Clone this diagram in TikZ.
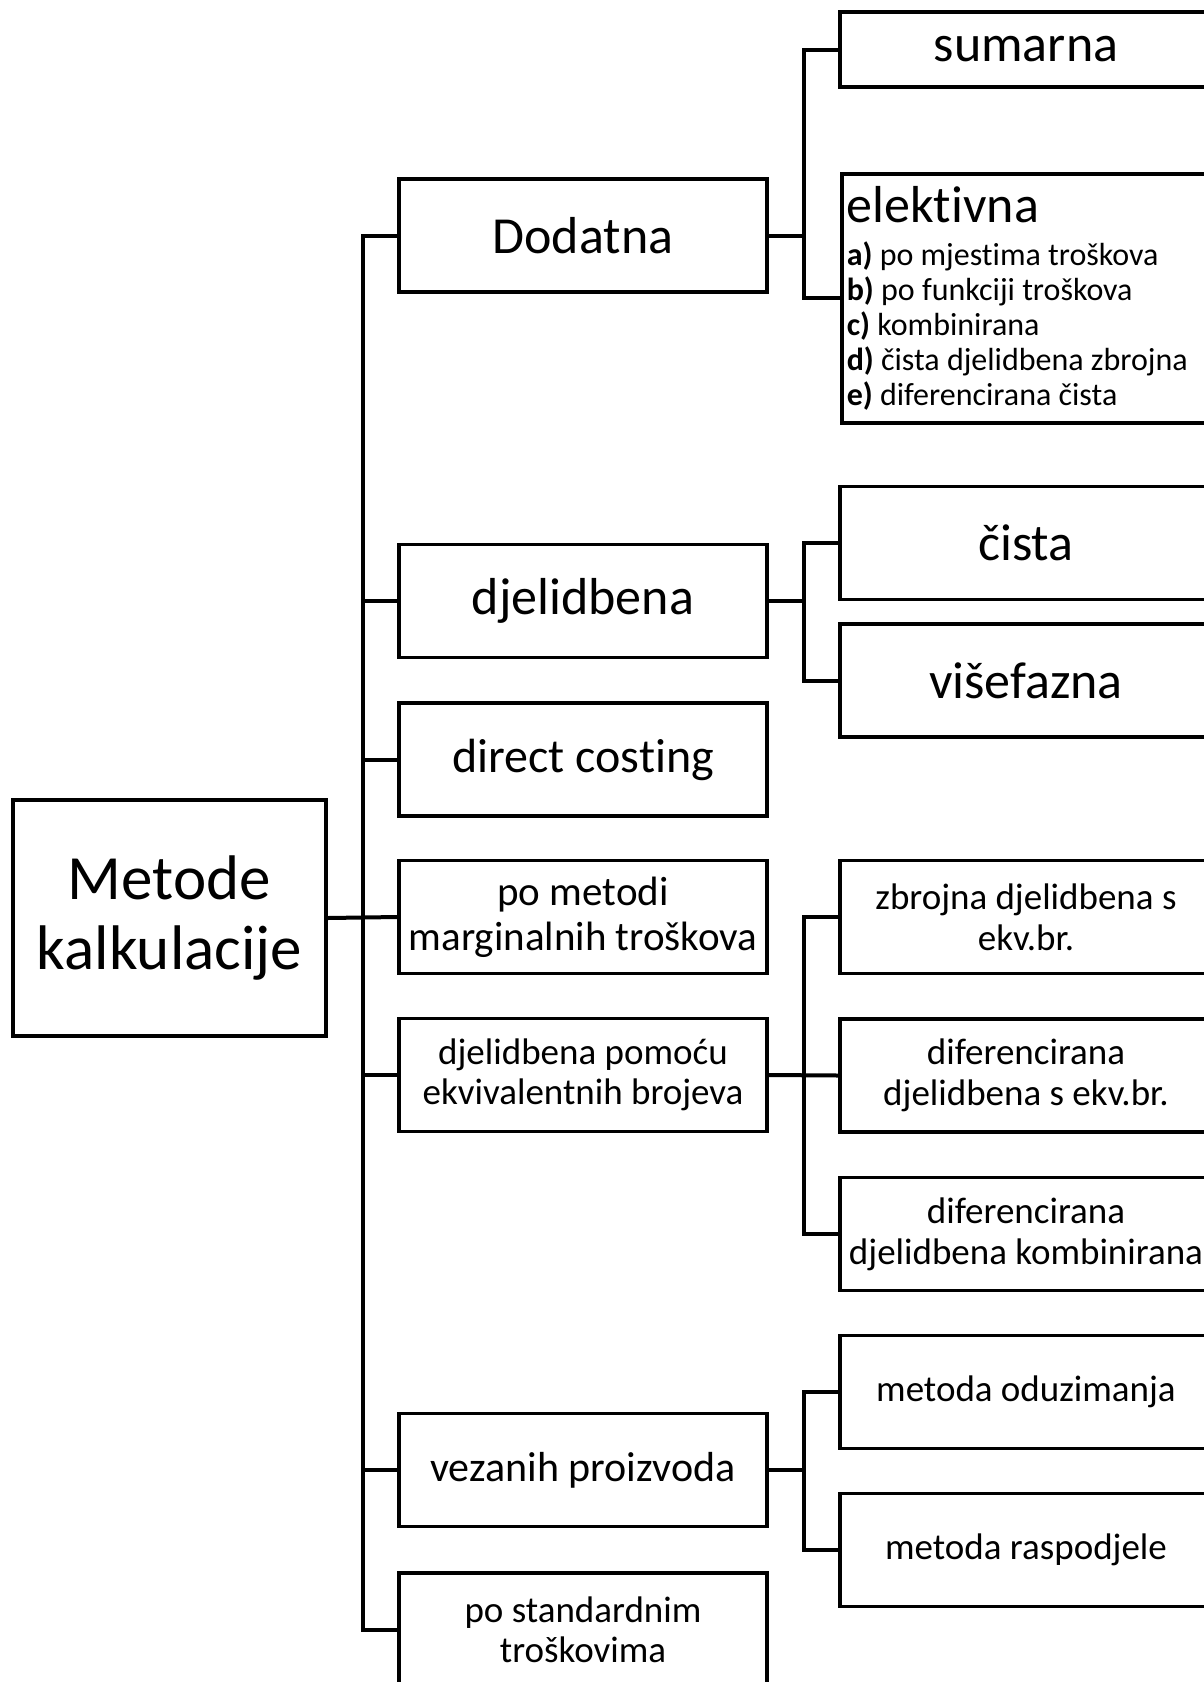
\documentclass[tikz,border=0pt]{standalone}
\usepackage{fontspec}
\setmainfont{Carlito}[Ligatures={NoCommon,NoRequired,NoContextual},Contextuals=NoAlternate]
\newcommand{\fsz}[2]{\fontsize{#1}{#2}\selectfont}
\begin{document}
\begin{tikzpicture}[x=1pt,y=-1pt,
    box/.style={draw,line width=3.5pt,minimum height=113,inner sep=0pt,align=center},
    mid/.style={box,minimum width=368},
    leaf/.style={box,minimum width=372},
    link/.style={line width=4pt}]
    \useasboundingbox (0,0) rectangle (1204,1682);
    \clip (0,0) rectangle (1204,1682);
    % root
    \node[box,minimum width=313,minimum height=236,font=\fsz{63}{70}] (root) at (169.5,918) {Metode\\kalkulacije};
    % middle column
    \node[mid,font=\fsz{52}{56}] (dod) at (583,235.5) {Dodatna};
    \node[mid,font=\fsz{52}{56}] (djel) at (583,601) {djelidbena};
    \node[mid,font=\fsz{48}{52}] (direct) at (583,759.5) {direct costing};
    \node[mid,font=\fsz{41}{45}] (marg) at (583,917) {po metodi\\marginalnih troškova};
    \node[mid,font=\fsz{37}{40}] (ekv) at (583,1075) {djelidbena pomoću\\ekvivalentnih brojeva};
    \node[mid,font=\fsz{42}{46}] (vez) at (583,1470) {vezanih proizvoda};
    \node[mid,font=\fsz{37}{40}] (std) at (583,1629.5) {po standardnim\\troškovima};
    % right column
    \node[leaf,minimum height=75,font=\fsz{52}{56}] (sum) at (1026,49.5) {sumarna};
    \node[leaf,anchor=north west,minimum height=249,text width=362,align=flush left,inner xsep=5pt,font=\fsz{32}{35}] (elk) at (840,172)
        {{\fsz{52}{52}elektivna}\\[8pt]
         \textbf{a)} po mjestima troškova\\
         \textbf{b)} po funkciji troškova\\
         \textbf{c)} kombinirana\\
         \textbf{d)} čista djelidbena zbrojna\\
         \textbf{e)} diferencirana čista};
    \node[leaf,font=\fsz{52}{56}] (cista) at (1026,543) {čista};
    \node[leaf,font=\fsz{52}{56}] (visef) at (1026,680.5) {višefazna};
    \node[leaf,font=\fsz{37}{41}] (zbr) at (1026,917) {zbrojna djelidbena s\\ekv.br.};
    \node[leaf,font=\fsz{37}{41}] (difekv) at (1026,1075.5) {diferencirana\\djelidbena s ekv.br.};
    \node[leaf,font=\fsz{37}{41}] (difkomb) at (1026,1234) {diferencirana\\djelidbena kombinirana};
    \node[leaf,font=\fsz{37}{41}] (oduz) at (1026,1392) {metoda oduzimanja};
    \node[leaf,font=\fsz{37}{41}] (rasp) at (1026,1550) {metoda raspodjele};
    % trunk
    \coordinate (trunk) at (363,0);
    \coordinate (fork) at (804,0);
    \draw[link] (dod.west) -- (dod.west -| trunk) -- (std.west -| trunk) -- (std.west);
    \foreach \n in {djel,direct,ekv,vez}
        \draw[link] (\n.west) -- (\n.west -| trunk);
    \draw[link] (root.east) -- (marg.west);
    % branches
    \draw[link] (dod.east) -- (dod.east -| fork);
    \draw[link] (sum.west) -- (sum.west -| fork) -- (elk.west -| fork) -- (elk.west);
    \draw[link] (djel.east) -- (djel.east -| fork);
    \draw[link] (cista.west) -- (cista.west -| fork) -- (visef.west -| fork) -- (visef.west);
    \draw[link] (ekv.east) -- (difekv.west);
    \draw[link] (zbr.west) -- (zbr.west -| fork) -- (difkomb.west -| fork) -- (difkomb.west);
    \draw[link] (vez.east) -- (vez.east -| fork);
    \draw[link] (oduz.west) -- (oduz.west -| fork) -- (rasp.west -| fork) -- (rasp.west);
\end{tikzpicture}
\end{document}
